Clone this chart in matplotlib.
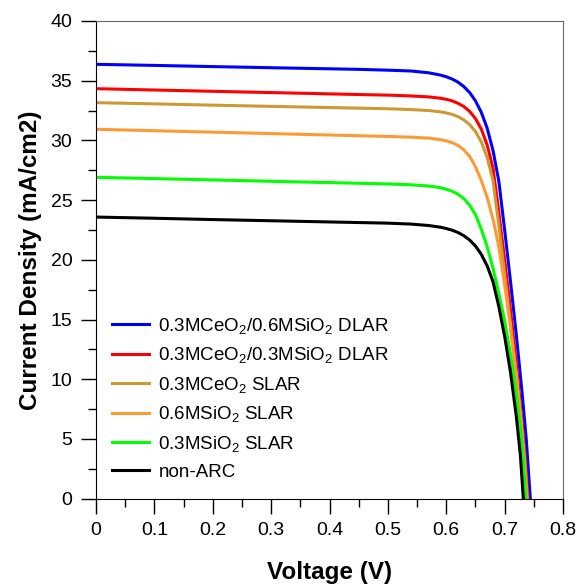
"""J-V curves of the ARC-coated solar cells."""

import matplotlib

matplotlib.use("Agg")
import matplotlib.pyplot as plt
from matplotlib.ticker import MultipleLocator


# voltage (V) / current density (mA/cm2)
v_dlar_06 = [0, 0.10, 0.20, 0.35, 0.45, 0.50, 0.54, 0.57, 0.59, 0.60, 0.61, 0.62, 0.63, 0.64, 0.65,
             0.66, 0.67, 0.68, 0.69, 0.70, 0.71, 0.72, 0.73, 0.737, 0.744]
j_dlar_06 = [36.37, 36.28, 36.18, 36.04, 35.95, 35.88, 35.81, 35.66, 35.47, 35.33, 35.14, 34.88, 34.51, 34.01, 33.31,
             32.35, 31.03, 29.17, 26.6, 22.5, 18.2, 13.7, 8.8, 5.0, 0]

v_dlar_03 = [0, 0.10, 0.20, 0.35, 0.45, 0.50, 0.54, 0.57, 0.59, 0.60, 0.61, 0.62, 0.63, 0.64, 0.65,
             0.66, 0.67, 0.68, 0.69, 0.70, 0.71, 0.72, 0.73, 0.735, 0.740]
j_dlar_03 = [34.33, 34.22, 34.11, 33.95, 33.84, 33.79, 33.72, 33.64, 33.53, 33.44, 33.31, 33.11, 32.84, 32.43, 31.83,
             30.95, 29.63, 27.69, 24.0, 20.0, 15.8, 11.3, 6.3, 3.5, 0]

v_ceo2 = [0, 0.10, 0.20, 0.35, 0.45, 0.50, 0.54, 0.57, 0.59, 0.60, 0.61, 0.62, 0.63, 0.64, 0.65,
          0.66, 0.67, 0.68, 0.69, 0.70, 0.71, 0.72, 0.73, 0.735, 0.739]
j_ceo2 = [33.16, 33.06, 32.95, 32.80, 32.70, 32.65, 32.58, 32.50, 32.39, 32.30, 32.18, 31.99, 31.72, 31.33, 30.74,
          29.87, 28.58, 26.66, 22.9, 18.8, 14.6, 10.2, 5.5, 2.8, 0]

v_sio2_06 = [0, 0.10, 0.20, 0.35, 0.45, 0.50, 0.54, 0.57, 0.59, 0.60, 0.61, 0.62, 0.63, 0.64, 0.65,
             0.66, 0.67, 0.68, 0.69, 0.70, 0.71, 0.72, 0.728, 0.733, 0.738]
j_sio2_06 = [30.93, 30.81, 30.69, 30.51, 30.39, 30.33, 30.27, 30.19, 30.06, 29.96, 29.81, 29.58, 29.21, 28.66, 27.8,
             26.64, 25.23, 23.42, 21.1, 17.9, 14.3, 10.4, 6.6, 3.6, 0]

v_sio2_03 = [0, 0.10, 0.20, 0.35, 0.45, 0.50, 0.54, 0.57, 0.59, 0.60, 0.61, 0.62, 0.63, 0.64, 0.65,
             0.66, 0.67, 0.68, 0.69, 0.70, 0.71, 0.72, 0.727, 0.732, 0.736]
j_sio2_03 = [26.91, 26.80, 26.69, 26.52, 26.41, 26.35, 26.28, 26.18, 26.04, 25.91, 25.74, 25.49, 25.13, 24.58, 23.78,
             22.58, 21.1, 19.3, 17.2, 14.9, 12.1, 8.8, 6.0, 3.3, 0]

v_bare = [0, 0.10, 0.20, 0.35, 0.45, 0.50, 0.54, 0.57, 0.59, 0.60, 0.61, 0.62, 0.63, 0.64, 0.65,
          0.66, 0.67, 0.68, 0.69, 0.70, 0.71, 0.72, 0.727, 0.732]
j_bare = [23.58, 23.48, 23.37, 23.22, 23.12, 23.07, 22.99, 22.87, 22.73, 22.62, 22.48, 22.29, 22.02, 21.66, 21.16,
          20.46, 19.5, 18.18, 16.1, 13.6, 10.6, 6.9, 3.6, 0]

labels = [
    r"0.3MCeO$_2$/0.6MSiO$_2$ DLAR",
    r"0.3MCeO$_2$/0.3MSiO$_2$ DLAR",
    r"0.3MCeO$_2$ SLAR",
    r"0.6MSiO$_2$ SLAR",
    r"0.3MSiO$_2$ SLAR",
    "non-ARC",
]
colors = ["#0000ff", "#ff0000", "#cc9933", "#ff9933", "#00ff00", "#000000"]
x_ticks = [0, 0.1, 0.2, 0.3, 0.4, 0.5, 0.6, 0.7, 0.8]
x_tick_labels = ["0", "0.1", "0.2", "0.3", "0.4", "0.5", "0.6", "0.7", "0.8"]

plt.rcParams.update(
    {
        "font.family": ["Liberation Sans", "DejaVu Sans"],
        "mathtext.fontset": "custom",
        "mathtext.rm": "Liberation Sans",
        "mathtext.it": "Liberation Sans",
        "mathtext.bf": "Liberation Sans:bold",
    }
)

fig = plt.figure(figsize=(5.79, 5.86), dpi=100)
ax = fig.add_axes([0.1658, 0.1491, 0.8066, 0.8151])

curves = [
    (v_dlar_06, j_dlar_06),
    (v_dlar_03, j_dlar_03),
    (v_ceo2, j_ceo2),
    (v_sio2_06, j_sio2_06),
    (v_sio2_03, j_sio2_03),
    (v_bare, j_bare),
]
for (v, j), label, color in zip(curves, labels, colors):
    ax.plot(v, j, color=color, linewidth=2.2, label=label, solid_joinstyle="round")

ax.set_xlim(0, 0.8)
ax.set_ylim(0, 40)
ax.set_xticks(x_ticks)
ax.set_xticklabels(x_tick_labels)
ax.xaxis.set_minor_locator(MultipleLocator(0.05))
ax.yaxis.set_major_locator(MultipleLocator(5))
ax.yaxis.set_minor_locator(MultipleLocator(2.5))

ax.tick_params(which="major", direction="out", length=11, width=1, labelsize=14, pad=6)
ax.tick_params(which="minor", direction="out", length=6, width=1)
for side in ["top", "right"]:
    ax.spines[side].set_color("#666666")

ax.set_xlabel("Voltage (V)", fontsize=17.5, fontweight="bold")
ax.set_ylabel("Current Density (mA/cm2)", fontsize=17.5, fontweight="bold")
ax.xaxis.set_label_coords(0.501, -0.131)
ax.yaxis.set_label_coords(-0.1156, 0.5)

ax.legend(
    loc="upper left",
    bbox_to_anchor=(0.034, 0.383),
    frameon=False,
    fontsize=13.5,
    handlelength=2.0,
    handletextpad=0.48,
    labelspacing=0.51,
    borderpad=0,
    borderaxespad=0,
)

fig.savefig("out.png", dpi=100)
